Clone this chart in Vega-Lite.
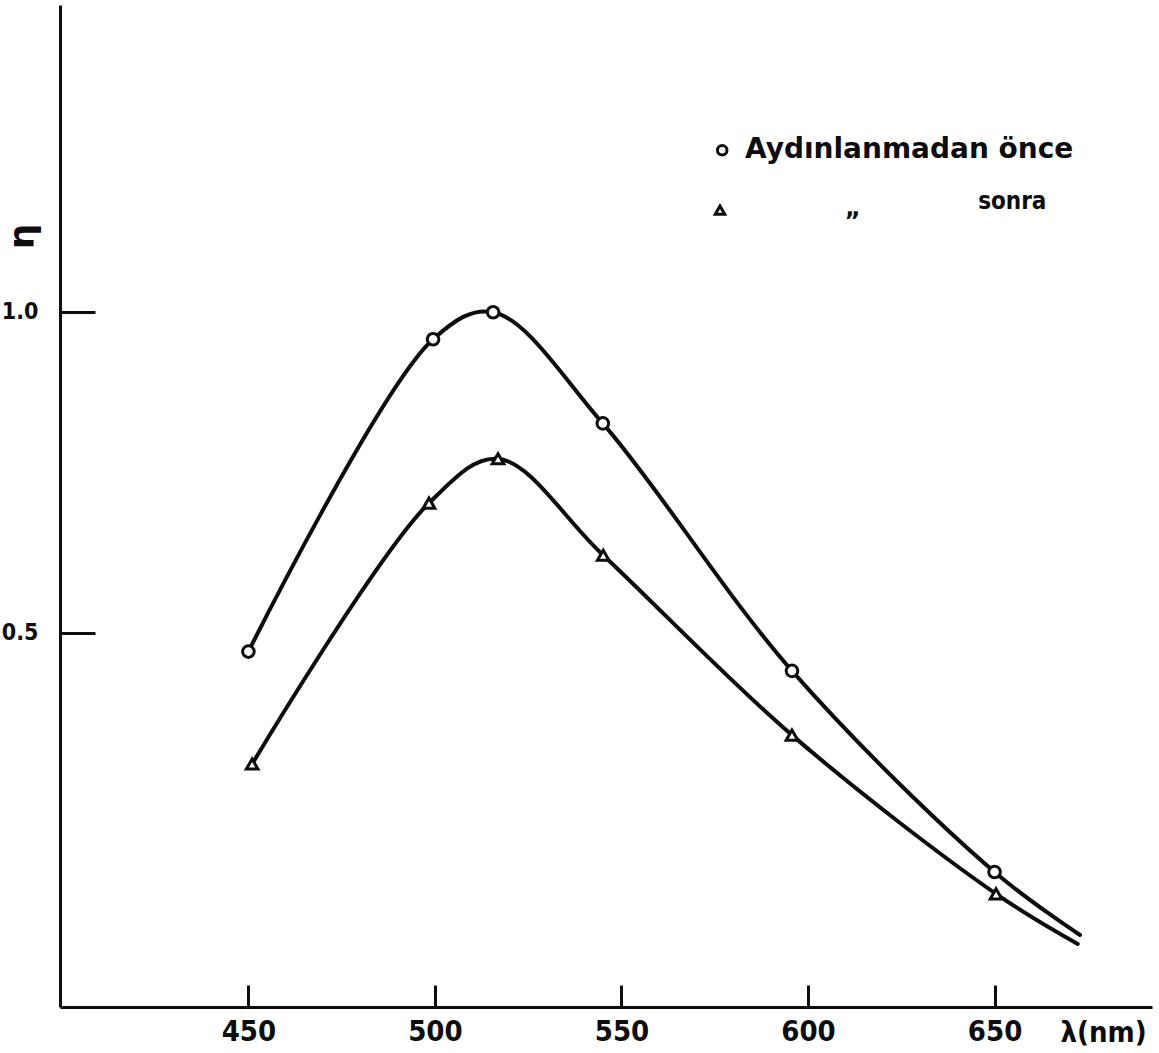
{
  "$schema": "https://vega.github.io/schema/vega-lite/v6.json",
  "width": 1092,
  "height": 1002,
  "autosize": {"type": "none"},
  "padding": {"left": 60, "top": 5, "right": 7, "bottom": 46},
  "background": "white",
  "config": {"view": {"stroke": null}},
  "datasets": {
    "olcum": [
      {"lambda": 450, "eta": 0.471, "seri": "önce", "nokta": true},
      {"lambda": 499.5, "eta": 0.957, "seri": "önce", "nokta": true},
      {"lambda": 515.6, "eta": 0.999, "seri": "önce", "nokta": true},
      {"lambda": 545, "eta": 0.826, "seri": "önce", "nokta": true},
      {"lambda": 595.7, "eta": 0.441, "seri": "önce", "nokta": true},
      {"lambda": 650, "eta": 0.128, "seri": "önce", "nokta": true},
      {"lambda": 672.9, "eta": 0.030, "seri": "önce", "nokta": false},
      {"lambda": 451, "eta": 0.296, "seri": "sonra", "nokta": true},
      {"lambda": 498.4, "eta": 0.702, "seri": "sonra", "nokta": true},
      {"lambda": 516.9, "eta": 0.771, "seri": "sonra", "nokta": true},
      {"lambda": 545.1, "eta": 0.621, "seri": "sonra", "nokta": true},
      {"lambda": 595.7, "eta": 0.341, "seri": "sonra", "nokta": true},
      {"lambda": 650.4, "eta": 0.094, "seri": "sonra", "nokta": true},
      {"lambda": 672.3, "eta": 0.016, "seri": "sonra", "nokta": false}
    ],
    "aciklama": [
      {"lambda": 577, "eta": 1.251, "seri": "önce", "metin": "Aydınlanmadan önce", "tx": 583.1},
      {"lambda": 576.4, "eta": 1.158, "seri": "sonra", "metin": "sonra", "tx": 645.6}
    ]
  },
  "layer": [
    {
      "data": {"name": "olcum"},
      "mark": {"type": "line", "interpolate": "catmull-rom", "color": "#0d0d0d", "strokeWidth": 4, "strokeCap": "round"},
      "encoding": {
        "x": {
          "field": "lambda", "type": "quantitative",
          "scale": {"domain": [399.5, 692.2], "nice": false, "zero": false},
          "axis": {
            "values": [450, 500, 550, 600, 650],
            "grid": false,
            "domainColor": "#0d0d0d", "domainWidth": 3,
            "tickColor": "#0d0d0d", "tickWidth": 3, "tickSize": -22,
            "labelPadding": 46,
            "labelFont": "DejaVu Sans Condensed", "labelFontWeight": "bold", "labelFontSize": 29, "labelColor": "#0d0d0d",
            "labelBaseline": "middle",
            "title": "λ(nm)",
            "titleFont": "DejaVu Sans Condensed", "titleFontWeight": "bold", "titleFontSize": 29, "titleColor": "#0d0d0d",
            "titleAlign": "left", "titleBaseline": "middle", "titleAnchor": null,
            "titleX": 1000, "titleY": 25
          }
        },
        "y": {
          "field": "eta", "type": "quantitative",
          "scale": {"domain": [-0.082, 1.477], "nice": false, "zero": false},
          "axis": {
            "values": [0.5, 1.0],
            "format": ".1f",
            "grid": false,
            "domainColor": "#0d0d0d", "domainWidth": 3,
            "tickColor": "#0d0d0d", "tickWidth": 3, "tickSize": -35,
            "labelPadding": 57,
            "labelFont": "DejaVu Sans Condensed", "labelFontWeight": "bold", "labelFontSize": 23, "labelColor": "#0d0d0d",
            "title": "η",
            "titleFont": "DejaVu Sans", "titleFontWeight": "bold", "titleFontSize": 36, "titleColor": "#0d0d0d",
            "titleAngle": -90, "titleAlign": "center", "titleBaseline": "middle", "titleAnchor": null,
            "titleX": -38, "titleY": 231
          }
        },
        "detail": {"field": "seri"}
      }
    },
    {
      "data": {"name": "olcum"},
      "transform": [{"filter": "datum.nokta"}],
      "mark": {"type": "point", "filled": false, "fill": "white", "fillOpacity": 1, "stroke": "#0d0d0d", "strokeWidth": 3, "size": 135, "opacity": 1},
      "encoding": {
        "x": {"field": "lambda", "type": "quantitative"},
        "y": {"field": "eta", "type": "quantitative"},
        "shape": {"field": "seri", "type": "nominal", "scale": {"domain": ["önce", "sonra"], "range": ["circle", "triangle-up"]}, "legend": null}
      }
    },
    {
      "data": {"name": "aciklama"},
      "mark": {"type": "point", "filled": false, "fill": "white", "fillOpacity": 1, "stroke": "#0d0d0d", "strokeWidth": 3, "size": 90, "opacity": 1},
      "encoding": {
        "x": {"field": "lambda", "type": "quantitative"},
        "y": {"field": "eta", "type": "quantitative"},
        "shape": {"field": "seri", "type": "nominal", "scale": {"domain": ["önce", "sonra"], "range": ["circle", "triangle-up"]}, "legend": null}
      }
    },
    {
      "data": {"name": "aciklama"},
      "transform": [{"filter": "datum.seri === 'önce'"}],
      "mark": {"type": "text", "align": "left", "baseline": "middle", "font": "DejaVu Sans", "fontWeight": "bold", "fontSize": 28, "color": "#0d0d0d"},
      "encoding": {
        "x": {"field": "tx", "type": "quantitative"},
        "y": {"field": "eta", "type": "quantitative"},
        "text": {"field": "metin"}
      }
    },
    {
      "data": {"name": "aciklama"},
      "transform": [{"filter": "datum.seri === 'sonra'"}],
      "mark": {"type": "text", "align": "left", "baseline": "middle", "font": "DejaVu Sans Condensed", "fontWeight": "bold", "fontSize": 24, "color": "#0d0d0d", "dy": -8},
      "encoding": {
        "x": {"field": "tx", "type": "quantitative"},
        "y": {"field": "eta", "type": "quantitative"},
        "text": {"field": "metin"}
      }
    },
    {
      "data": {"values": [{"lambda": 612, "eta": 1.16, "metin": "„"}]},
      "mark": {"type": "text", "align": "center", "baseline": "middle", "font": "DejaVu Sans", "fontWeight": "bold", "fontSize": 24, "color": "#0d0d0d"},
      "encoding": {
        "x": {"field": "lambda", "type": "quantitative"},
        "y": {"field": "eta", "type": "quantitative"},
        "text": {"field": "metin"}
      }
    }
  ]
}
